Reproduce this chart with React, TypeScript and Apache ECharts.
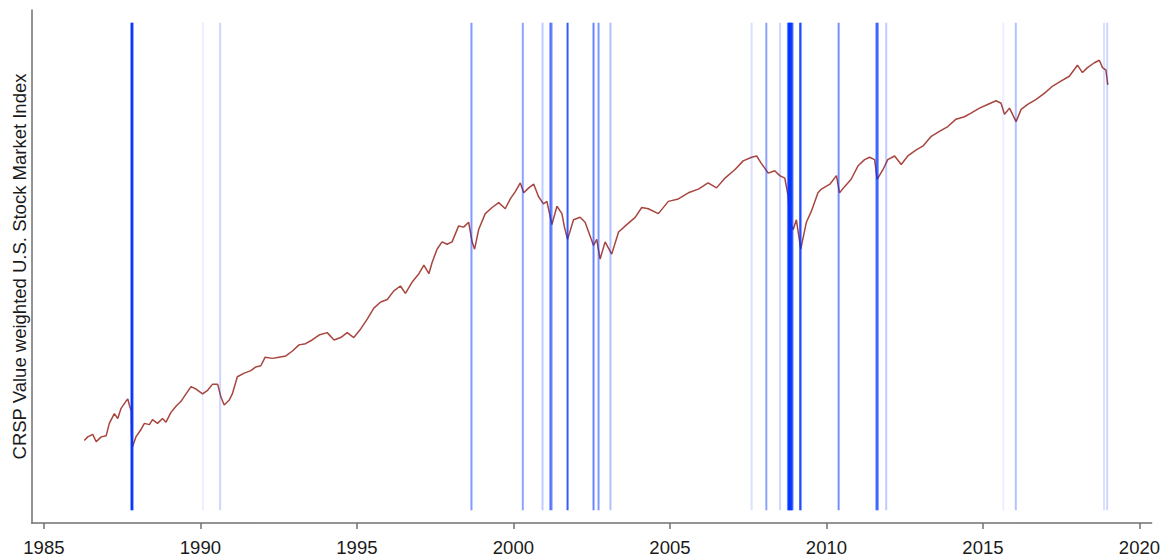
import React, { useEffect, useRef } from "react";
import * as echarts from "echarts";

const tickYears = [1985, 1990, 1995, 2000, 2005, 2010, 2015, 2020];

// decimal year of each reading of the index
const indexYears = [
  1986.29, 1986.40, 1986.56, 1986.67, 1986.83, 1986.99, 1987.09, 1987.25, 1987.36, 1987.46,
  1987.62, 1987.68, 1987.73, 1987.79, 1987.80, 1987.83, 1987.94, 1988.10, 1988.21, 1988.37,
  1988.47, 1988.63, 1988.79, 1988.90, 1989.06, 1989.22, 1989.38, 1989.54, 1989.70, 1989.86,
  1990.07, 1990.23, 1990.39, 1990.55, 1990.65, 1990.76, 1990.92, 1991.02, 1991.18, 1991.40,
  1991.61, 1991.77, 1991.93, 1992.07, 1992.30, 1992.51, 1992.73, 1992.94, 1993.15, 1993.36,
  1993.57, 1993.79, 1994.05, 1994.27, 1994.48, 1994.69, 1994.90, 1995.12, 1995.33, 1995.54,
  1995.76, 1995.97, 1996.18, 1996.39, 1996.55, 1996.76, 1996.98, 1997.14, 1997.30, 1997.40,
  1997.56, 1997.72, 1997.88, 1998.04, 1998.25, 1998.41, 1998.57, 1998.68, 1998.76, 1998.89,
  1999.10, 1999.32, 1999.53, 1999.74, 1999.90, 2000.06, 2000.22, 2000.33, 2000.49, 2000.65,
  2000.80, 2000.96, 2001.07, 2001.23, 2001.39, 2001.55, 2001.63, 2001.73, 2001.92, 2002.13,
  2002.29, 2002.56, 2002.66, 2002.77, 2002.93, 2003.14, 2003.36, 2003.62, 2003.89, 2004.10,
  2004.31, 2004.63, 2004.95, 2005.27, 2005.59, 2005.91, 2006.22, 2006.49, 2006.76, 2007.08,
  2007.34, 2007.61, 2007.77, 2007.92, 2008.14, 2008.35, 2008.51, 2008.67, 2008.78, 2008.83,
  2008.94, 2009.04, 2009.18, 2009.36, 2009.52, 2009.73, 2009.84, 2010.11, 2010.32, 2010.42,
  2010.58, 2010.79, 2011.01, 2011.22, 2011.38, 2011.54, 2011.62, 2011.81, 2011.96, 2012.18,
  2012.39, 2012.60, 2012.87, 2013.08, 2013.35, 2013.61, 2013.88, 2014.14, 2014.41, 2014.62,
  2014.89, 2015.15, 2015.42, 2015.58, 2015.69, 2015.85, 2016.06, 2016.22, 2016.43, 2016.69,
  2016.96, 2017.23, 2017.49, 2017.76, 2018.02, 2018.18, 2018.34, 2018.56, 2018.72, 2018.82,
  2018.93, 2018.99,
];

// log points (100 x ln of the index, start of sample = 0)
const indexLogPoints = [
  -1, 2, 4, -2, 2, 3, 13, 21, 17, 25,
  31, 33, 28, 23, 3, -6, 2, 8, 13, 12,
  16, 13, 17, 14, 22, 27, 31, 37, 43, 41,
  37, 40, 45, 45, 35, 28, 32, 37, 51, 54,
  56, 59, 60, 67, 66, 67, 68, 72, 77, 78,
  81, 85, 87, 81, 83, 87, 83, 90, 98, 107,
  112, 114, 121, 125, 119, 128, 135, 142, 135, 144,
  155, 161, 159, 161, 174, 173, 177, 161, 155, 171,
  184, 189, 193, 188, 196, 202, 209, 201, 205, 208,
  198, 192, 194, 175, 190, 184, 173, 163, 179, 181,
  177, 158, 163, 147, 161, 151, 169, 175, 181, 189,
  188, 184, 194, 196, 201, 204, 209, 205, 213, 220,
  227, 230, 231, 225, 217, 219, 215, 213, 198, 177,
  171, 179, 155, 177, 186, 201, 204, 208, 215, 201,
  206, 212, 223, 228, 230, 228, 212, 220, 228, 231,
  224, 231, 236, 239, 247, 251, 255, 261, 263, 266,
  270, 273, 276, 274, 265, 270, 259, 269, 273, 277,
  282, 288, 292, 296, 305, 299, 303, 307, 309, 303,
  301, 289,
];

// dates of market events marked by vertical lines, with their intensity
const eventYears = [
  1987.80, 1987.83, 1990.08, 1990.63, 1998.66, 2000.30, 2000.93, 2001.18, 2001.22, 2001.73,
  2002.56, 2002.72, 2003.10, 2007.61, 2008.08, 2008.52, 2008.77, 2008.80, 2008.83, 2008.86,
  2008.89, 2008.92, 2009.16, 2009.19, 2010.39, 2011.60, 2011.64, 2011.91, 2015.65,
  2016.05, 2018.87, 2018.97,
];
const eventIntensity = [
  1, 0.85, 0.08, 0.2, 0.5, 0.45, 0.25, 0.6, 0.5, 0.8,
  0.6, 0.5, 0.3, 0.15, 0.45, 0.2, 0.55, 0.9, 0.95, 0.9,
  0.8, 0.5, 0.8, 0.4, 0.55, 0.7, 0.6, 0.25, 0.08,
  0.3, 0.15, 0.2,
];

const yAxisTitle = "CRSP Value weighted U.S. Stock Market Index";

export default function App() {
  const ref = useRef<HTMLDivElement>(null);

  useEffect(() => {
    if (!ref.current) return;
    const chart = echarts.init(ref.current, null, { renderer: "svg" });
    const axisColor = "#707070";
    const lineData = indexYears.map((y, i) => [y, indexLogPoints[i]]);
    const eventData = eventYears.map((y, i) => [y, eventIntensity[i]]);

    chart.setOption({
      animation: false,
      backgroundColor: "#ffffff",
      textStyle: { fontFamily: "'Liberation Sans', Arial, Helvetica, sans-serif" },
      grid: { left: 31.7, right: 8.6, top: 10, bottom: 32, containLabel: false },
      xAxis: {
        type: "value",
        min: 1984.61,
        max: 2020.39,
        axisLine: { show: true, onZero: false, lineStyle: { color: axisColor, width: 1.5 } },
        axisTick: {
          show: true,
          customValues: tickYears,
          length: 6,
          lineStyle: { color: axisColor, width: 1.5 },
        },
        axisLabel: {
          show: true,
          customValues: tickYears,
          fontSize: 18.5,
          color: "#1a1a1a",
          margin: 15,
          formatter: (v: number) => String(Math.round(v)),
        },
        splitLine: { show: false },
      },
      yAxis: [
        {
          type: "value",
          min: -68.2,
          max: 350,
          axisLine: { show: true, onZero: false, lineStyle: { color: axisColor, width: 1.5 } },
          axisTick: { show: false },
          axisLabel: { show: false },
          splitLine: { show: false },
          name: yAxisTitle,
          nameLocation: "middle",
          nameGap: 3,
          nameTextStyle: { fontSize: 18.5, color: "#1a1a1a" },
        },
        { type: "value", min: 0, max: 1, show: false },
      ],
      series: [
        {
          type: "line",
          data: lineData,
          symbol: "none",
          showSymbol: false,
          lineStyle: { color: "#a8453f", width: 1.5 },
          z: 2,
        },
        {
          type: "custom",
          xAxisIndex: 0,
          yAxisIndex: 1,
          data: eventData,
          z: 3,
          renderItem: (params: any, api: any) => {
            const x = api.value(0);
            const a = api.value(1);
            const p0 = api.coord([x, 0.025]);
            const p1 = api.coord([x, 0.975]);
            return {
              type: "line",
              shape: { x1: p0[0], y1: p0[1], x2: p1[0], y2: p1[1] },
              style: { stroke: "#0033ff", lineWidth: 2, opacity: a },
            };
          },
        },
      ],
    });

    return () => chart.dispose();
  }, []);

  return (
    <div
      ref={ref}
      style={{ position: "fixed", left: 0, top: 0, width: 1163, height: 557, background: "#fff" }}
    />
  );
}
